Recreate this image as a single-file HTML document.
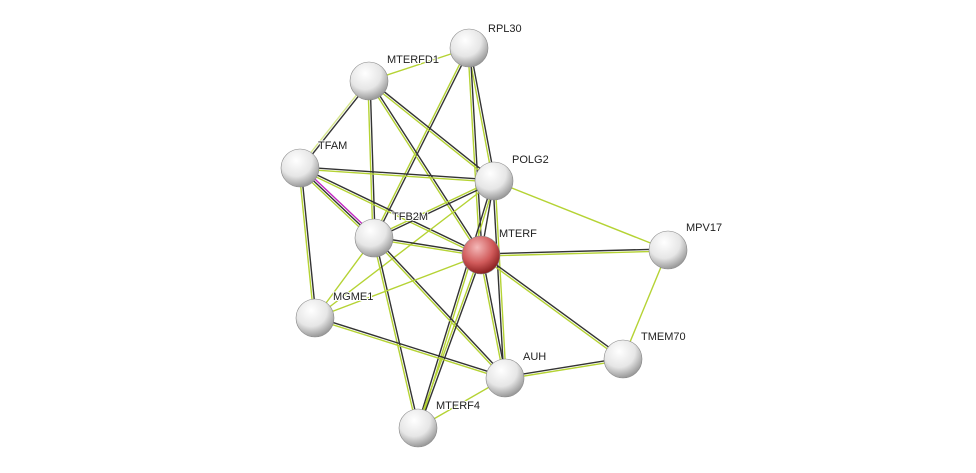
<!DOCTYPE html>
<html><head><meta charset="utf-8"><style>
body{margin:0;background:#fff;}
svg{display:block}
text{font-family:"Liberation Sans",sans-serif;font-size:11px;fill:#222;paint-order:stroke;stroke:#fff;stroke-width:2px;stroke-linejoin:round}
</style></head><body>
<svg id="s" width="976" height="473" viewBox="0 0 976 473" xmlns="http://www.w3.org/2000/svg">
<defs>
<radialGradient id="g" cx="40%" cy="30%" r="70%">
<stop offset="0" stop-color="#ffffff"/><stop offset="0.6" stop-color="#e6e6e6"/><stop offset="1" stop-color="#9a9a9a"/>
</radialGradient>
<radialGradient id="r" cx="40%" cy="30%" r="70%">
<stop offset="0" stop-color="#f4b8b8"/><stop offset="0.6" stop-color="#d05a5a"/><stop offset="1" stop-color="#8a2020"/>
</radialGradient>
</defs>
<g id="e"></g><g id="n"></g>
</svg>
<script>
var N={RPL30:[469,48],MTERFD1:[369,81],TFAM:[300,168],POLG2:[494,181],TFB2M:[374,238],MTERF:[481,255],MPV17:[668,250],MGME1:[315,318],TMEM70:[623,359],AUH:[505,378],MTERF4:[418,428]};
var G="#b5d334",B="#333",M="#c026c0";
var E=[["RPL30","MTERFD1",[G]],["RPL30","TFB2M",[B,G]],["RPL30","POLG2",[B,G]],["RPL30","MTERF",[B,G]],
["MTERFD1","TFAM",[B,"#d8e890"]],["MTERFD1","TFB2M",[B,G]],["MTERFD1","POLG2",[B,G]],["MTERFD1","MTERF",[B,G]],
["TFAM","POLG2",[B,G]],["TFAM","MTERF",[B,G]],["TFAM","TFB2M",[M,B,G]],["TFAM","MGME1",[B,G]],
["POLG2","TFB2M",[B,G]],["POLG2","MPV17",[G]],["POLG2","MGME1",[G]],["POLG2","MTERF4",[G,B]],["POLG2","AUH",[G,B]],["POLG2","MTERF",[B]],
["TFB2M","MTERF",[B,G]],["TFB2M","MGME1",[G]],["TFB2M","AUH",[B,G]],["TFB2M","MTERF4",[B,G]],
["MTERF","MPV17",[B,G]],["MTERF","MGME1",[G]],["MTERF","AUH",[B,G]],["MTERF","MTERF4",[B,G]],["MTERF","TMEM70",[B,G]],
["MPV17","TMEM70",[G]],["MGME1","AUH",[B,G]],["AUH","TMEM70",[B,G]],["AUH","MTERF4",[G]]];
var ns="http://www.w3.org/2000/svg",eg=document.getElementById("e"),ng=document.getElementById("n");
E.forEach(function(e){var a=N[e[0]],b=N[e[1]],dx=b[0]-a[0],dy=b[1]-a[1],L=Math.hypot(dx,dy),px=-dy/L,py=dx/L,k=e[2].length;
e[2].forEach(function(c,i){var o=(i-(k-1)/2)*2.2;var l=document.createElementNS(ns,"line");
l.setAttribute("x1",a[0]+px*o);l.setAttribute("y1",a[1]+py*o);l.setAttribute("x2",b[0]+px*o);l.setAttribute("y2",b[1]+py*o);
l.setAttribute("stroke",c);l.setAttribute("stroke-width","1.4");eg.appendChild(l);});});
var lab={RPL30:[488,32],MTERFD1:[387,63],TFAM:[318,149],POLG2:[512,163],TFB2M:[392,220],MTERF:[499,237],MPV17:[686,231],MGME1:[333,300],TMEM70:[641,340],AUH:[523,360],MTERF4:[436,409]};
for(var k in N){var p=N[k],c=document.createElementNS(ns,"circle");c.setAttribute("cx",p[0]);c.setAttribute("cy",p[1]);c.setAttribute("r",19);
c.setAttribute("fill",k=="MTERF"?"url(#r)":"url(#g)");c.setAttribute("stroke","#888");c.setAttribute("stroke-width","0.6");ng.appendChild(c);
var t=document.createElementNS(ns,"text");t.setAttribute("x",lab[k][0]);t.setAttribute("y",lab[k][1]);t.textContent=k;ng.appendChild(t);}
</script>
</body></html>
